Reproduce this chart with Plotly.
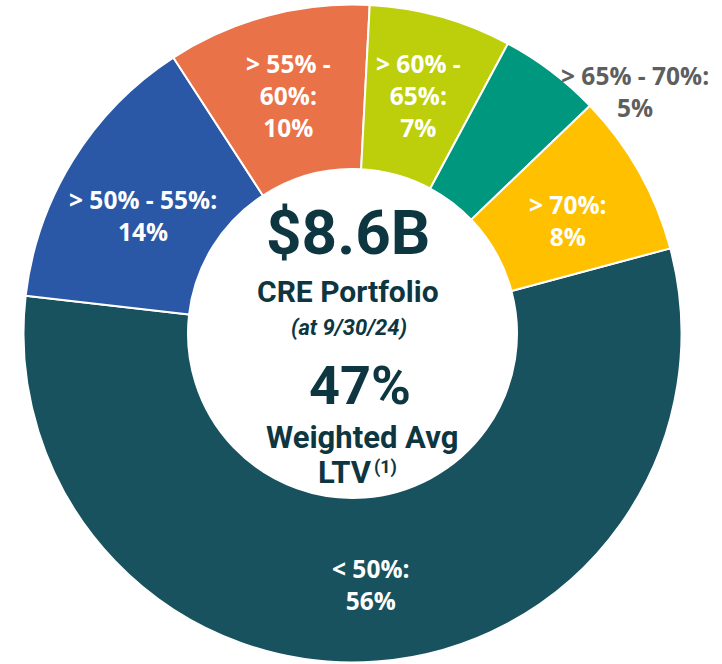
import math
import plotly.graph_objects as go

# ---- data ----
categories = ["< 50%", "> 50% - 55%", "> 55% - 60%", "> 60% - 65%", "> 65% - 70%", "> 70%"]
shares = [56, 14, 10, 7, 5, 8]
slice_labels = ["< 50%:<br>56%", "> 50% - 55%:<br>14%", "> 55% -<br>60%:<br>10%",
                "> 60% -<br>65%:<br>7%", "> 65% - 70%:<br>5%", "> 70%:<br>8%"]

# ---- style ----
colors = ["#18525F", "#2A58A6", "#EA7249", "#BCCF0A", "#00977F", "#FFC000"]
label_colors = ["white", "white", "white", "white", "#5E5E5E", "white"]
outside = [False, False, False, False, True, False]
label_yshift = [-5, -12, 0, 0, -20, -8]

W, H = 722, 664
CX, CY, R = 352.5, 333.5, 329.0   # pie centre / radius in px
HOLE = 0.5
START = 75.0  # rotation (deg, clockwise from 12 o'clock)

dom_x = [(CX - R) / W, (CX + R) / W]
dom_y = [(H - CY - R) / H, (H - CY + R) / H]

fig = go.Figure(go.Pie(
    labels=categories, values=shares, sort=False, direction="clockwise",
    rotation=START, hole=HOLE, textinfo="none", hoverinfo="label+percent",
    marker=dict(colors=colors, line=dict(color="white", width=2)),
    domain=dict(x=dom_x, y=dom_y), showlegend=False,
))

def to_paper(px, py):
    return px / W, 1 - py / H

LBL_SIZE = 24.5
total = sum(shares)
cum = 0.0
annotations = []
for lab, val, col, out, ys in zip(slice_labels, shares, label_colors, outside, label_yshift):
    mid = START + (cum + val / 2) / total * 360
    cum += val
    a = math.radians(mid)
    r = R if out else R * (1 + HOLE) / 2
    px, py = CX + r * math.sin(a), CY - r * math.cos(a)
    x, y = to_paper(px, py)
    annotations.append(dict(x=x, y=y, xref="paper", yref="paper", text=lab,
                            showarrow=False,
                            xanchor="left" if out else "center", yanchor="middle",
                            xshift=8 if out else 0, yshift=ys,
                            font=dict(family="Open Sans", size=LBL_SIZE, color=col, weight="bold")))

# centre text
dark = "#0E3641"
centre = [
    ("$8.6B", 348, 233, 62, "normal", "center"),
    ("CRE Portfolio", 348, 292, 30, "normal", "center"),
    ("(at 9/30/24)", 349, 327, 22, "italic", "center"),
    ("47%", 360, 385, 54, "normal", "center"),
    ("Weighted Avg", 362, 437, 31, "normal", "center"),
    ("LTV", 345, 472, 31, "normal", "center"),
    ("(1)", 372, 467, 18, "normal", "left"),
]
for txt, px, py, sz, st, xa in centre:
    x, y = to_paper(px, py)
    annotations.append(dict(x=x, y=y, xref="paper", yref="paper", text=txt,
                            showarrow=False, xanchor=xa, yanchor="middle",
                            font=dict(family="Roboto", size=sz, color=dark,
                                      weight="bold", style=st)))

fig.update_layout(width=W, height=H, margin=dict(l=0, r=0, t=0, b=0),
                  paper_bgcolor="white", plot_bgcolor="white",
                  annotations=annotations)
fig.write_html("out.html", config={"displayModeBar": False},
               post_script="document.body.style.margin='0';document.body.style.overflow='hidden';")
